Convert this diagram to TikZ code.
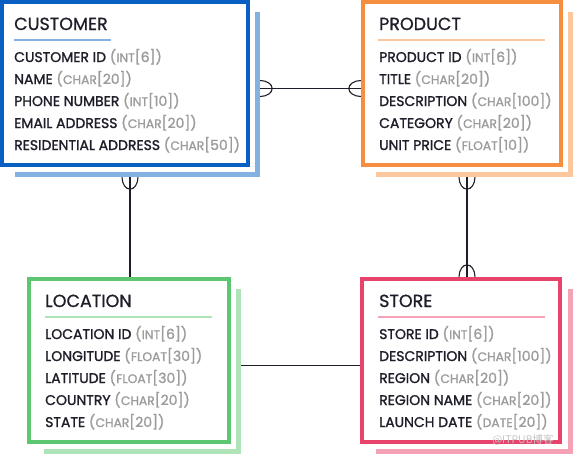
\documentclass[tikz,border=0pt]{standalone}
\usepackage{fontspec}
\setmainfont{Poppins}
\newfontfamily\namefont[FakeBold=1.4]{Poppins}
\newfontfamily\headfont[FakeBold=0.8]{Poppins}
\newfontfamily\cjk{Noto Sans CJK SC}
\usetikzlibrary{calc,fit}
\definecolor{custblue}{HTML}{0A5FC2}
\definecolor{custshade}{HTML}{82B2E2}
\definecolor{prodorange}{HTML}{F58E3F}
\definecolor{prodshade}{HTML}{FCC79C}
\definecolor{locgreen}{HTML}{5CC770}
\definecolor{locshade}{HTML}{AEE4B8}
\definecolor{storered}{HTML}{E8436B}
\definecolor{storeshade}{HTML}{F5A1B6}
\definecolor{ink}{HTML}{1E1E2A}
\definecolor{typegray}{HTML}{9C9C9C}
% data type in grey, letters a little smaller
\newcommand\dt[2]{\textcolor{typegray}{(\kern0.3pt{\fontsize{12.3}{13}\selectfont #1}[#2])}}

\begin{document}
\begin{tikzpicture}[
    x=1pt, y=-1pt,
    entity/.style={rectangle, draw=#1, line width=4pt, fill=white,
                   inner sep=0pt, outer sep=2pt, anchor=north west,
                   minimum height=163pt},
    backdrop/.style={draw=#1, line width=5pt},
    entitytitle/.style={anchor=base west, inner sep=0pt, text=ink,
                        font=\headfont\fontsize{17.5}{19}\selectfont},
    attr/.style={anchor=base west, inner sep=0pt, text=ink,
                 font=\namefont\fontsize{14}{15}\selectfont},
    rule/.style={draw=#1, line width=1.5pt},
    link/.style={draw=ink, line width=1.1pt},
    boxgroup/.style={inner sep=0pt, fit=#1},
    crow/.pic={\draw[link] (0,-8) .. controls (7,-8) and (12,-4) .. (12,0)
                                  .. controls (12,4) and (7,8) .. (0,8);},
]
\useasboundingbox (0,0) rectangle (574,456);

% CUSTOMER
\draw[backdrop=custshade] (15,174.5) -| (257.5,12);
\node[entity=custblue, minimum width=246pt] (custbox) at (0,0) {};
\coordinate (custcorner) at ($(custbox.south east)+(10,10)$);
\node[boxgroup={(custbox)(custcorner)}] (cust) {};
\node[entitytitle] (custtitle) at ($(custbox.north west)+(14,30)$) {CUSTOMER};
\draw[rule=custshade] ($(custbox.north west)+(14,40)$) -- ++(97,0);
\foreach \n/\t [count=\i] in {CUSTOMER ID/\dt{INT}{6}, NAME/\dt{CHAR}{20},
    PHONE NUMBER/\dt{INT}{10}, EMAIL ADDRESS/\dt{CHAR}{20},
    RESIDENTIAL ADDRESS/\dt{CHAR}{50}}
  \node[attr] (cust-\i) at ($(custbox.north west)+(14,40+22*\i)$) {\n\ \t};

% PRODUCT
\draw[backdrop=prodshade] (376,174.5) -| (570.5,12);
\node[entity=prodorange, minimum width=198pt] (prodbox) at (361,0) {};
\coordinate (prodcorner) at ($(prodbox.south east)+(10,10)$);
\node[boxgroup={(prodbox)(prodcorner)}] (prod) {};
\node[entitytitle] (prodtitle) at ($(prodbox.north west)+(18,30)$) {PRODUCT};
\draw[rule=prodshade] ($(prodbox.north west)+(17,40)$) -- ++(167,0);
\foreach \n/\t [count=\i] in {PRODUCT ID/\dt{INT}{6}, TITLE/\dt{CHAR}{20},
    DESCRIPTION/\dt{CHAR}{100}, CATEGORY/\dt{CHAR}{20},
    UNIT PRICE/\dt{FLOAT}{10}}
  \node[attr] (prod-\i) at ($(prodbox.north west)+(18,40+22*\i)$) {\n\ \t};

% LOCATION
\draw[backdrop=locshade] (44,451.5) -| (238.5,289);
\node[entity=locgreen, minimum width=200pt] (locbox) at (27,277) {};
\coordinate (loccorner) at ($(locbox.south east)+(10,10)$);
\node[boxgroup={(locbox)(loccorner)}] (loc) {};
\node[entitytitle] (loctitle) at ($(locbox.north west)+(18,30)$) {LOCATION};
\draw[rule=locshade] ($(locbox.north west)+(18,40)$) -- ++(167,0);
\foreach \n/\t [count=\i] in {LOCATION ID/\dt{INT}{6}, LONGITUDE/\dt{FLOAT}{30},
    LATITUDE/\dt{FLOAT}{30}, COUNTRY/\dt{CHAR}{20}, STATE/\dt{CHAR}{20}}
  \node[attr] (loc-\i) at ($(locbox.north west)+(18,40+22*\i)$) {\n\ \t};

% STORE
\draw[backdrop=storeshade] (376,451.5) -| (570.5,289);
\node[entity=storered, minimum width=198pt] (storebox) at (360,277) {};
\coordinate (storecorner) at ($(storebox.south east)+(10,10)$);
\node[boxgroup={(storebox)(storecorner)}] (store) {};
\node[entitytitle] (storetitle) at ($(storebox.north west)+(19,30)$) {STORE};
\draw[rule=storeshade] ($(storebox.north west)+(18,40)$) -- ++(167,0);
\foreach \n/\t [count=\i] in {STORE ID/\dt{INT}{6}, DESCRIPTION/\dt{CHAR}{100},
    REGION/\dt{CHAR}{20}, REGION NAME/\dt{CHAR}{20}, LAUNCH DATE/\dt{DATE}{20}}
  \node[attr] (store-\i) at ($(storebox.north west)+(19,40+22*\i)$) {\n\ \t};

% relations
\draw[link] (cust.east) -- (cust.east -| prod.west);
\pic at (cust.east) {crow};
\pic[rotate=180] at (cust.east -| prod.west) {crow};
\draw[link] (cust.south) -- (cust.south |- loc.north);
\pic[rotate=-90] at (cust.south) {crow};
\draw[link] (prod.south) -- (prod.south |- store.north);
\pic[rotate=-90] at (prod.south) {crow};
\pic[rotate=90] at (prod.south |- store.north) {crow};
\draw[link] (loc.east) -- (loc.east -| store.west);

\node[text=black!22, font=\cjk\fontsize{10.5}{12}\selectfont, inner sep=0pt]
  (mark) at (523,440) {@ITPUB博客};
\end{tikzpicture}
\end{document}
